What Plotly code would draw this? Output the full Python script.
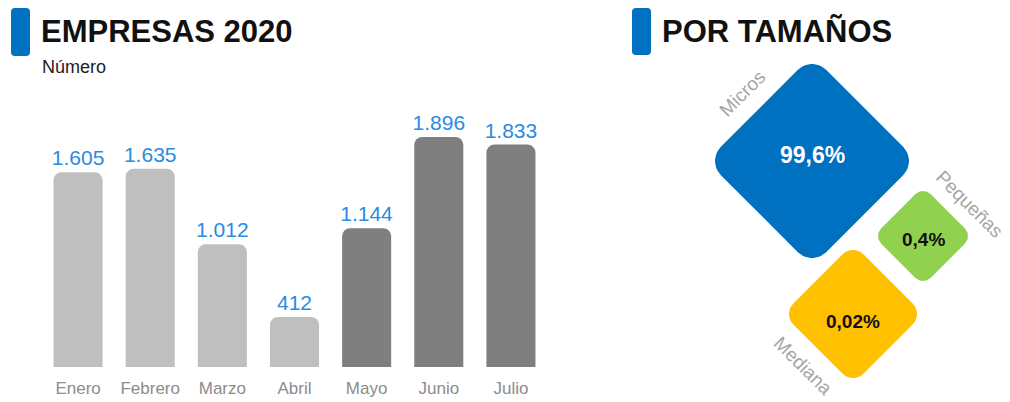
import numpy as np
import plotly.graph_objects as go

# ---- data ----
months = ["Enero", "Febrero", "Marzo", "Abril", "Mayo", "Junio", "Julio"]
empresas = [1605, 1635, 1012, 412, 1144, 1896, 1833]
value_labels = ["1.605", "1.635", "1.012", "412", "1.144", "1.896", "1.833"]
period = ["prev", "prev", "prev", "prev", "post", "post", "post"]

sizes = ["Micros", "Pequeñas", "Mediana"]
size_share_labels = ["99,6%", "0,4%", "0,02%"]

# ---- style ----
FONT = "Liberation Sans, Arial, sans-serif"
BAR_COL = {"prev": "#bfbfbf", "post": "#7f7f7f"}
BLUE = "#0070c0"
LABEL_BLUE = "#2a8be0"
OFF = 8                      # page body margin in the browser
W, H = 1010 - OFF, 402 - OFF

fig = go.Figure()

fig.add_trace(go.Bar(
    x=months, y=empresas,
    marker=dict(color=[BAR_COL[p] for p in period], cornerradius=8, line=dict(width=0)),
    text=value_labels, textposition="outside", cliponaxis=False, constraintext="none",
    textfont=dict(family=FONT, size=21, color=LABEL_BLUE),
    hoverinfo="skip", xaxis="x", yaxis="y",
))

# diamonds (pixel overlay axis)
dia_style = {
    "Micros":   dict(cx=812, cy=161, half=97, r=20, color=BLUE, tcol="white", tsize=23,
                     ty=155, lx=742, ly=93, la=-45),
    "Pequeñas": dict(cx=923, cy=236, half=45, r=11, color="#92d050", tcol="#111111", tsize=19,
                     ty=239, lx=970, ly=204, la=45),
    "Mediana":  dict(cx=853, cy=314, half=64, r=15, color="#ffc000", tcol="#111111", tsize=19,
                     ty=321, lx=803, ly=365, la=45),
}


def rounded_diamond(cx, cy, half, r):
    # rounded square in local frame, rotated 45 degrees
    a = (half - r) / np.sqrt(2) + r
    c = a - r
    pts = []
    for (ox, oy, a0) in [(c, c, 0), (-c, c, 90), (-c, -c, 180), (c, -c, 270)]:
        t = np.radians(np.linspace(a0, a0 + 90, 12))
        pts += list(zip(ox + r * np.cos(t), oy + r * np.sin(t)))
    pts = np.array(pts + [pts[0]])
    ang = np.radians(45)
    xr = pts[:, 0] * np.cos(ang) - pts[:, 1] * np.sin(ang)
    yr = pts[:, 0] * np.sin(ang) + pts[:, 1] * np.cos(ang)
    return cx + xr, cy + yr


annotations = []
for name, lab in zip(sizes, size_share_labels):
    s = dia_style[name]
    xs, ys = rounded_diamond(s["cx"], s["cy"], s["half"], s["r"])
    fig.add_trace(go.Scatter(x=xs, y=ys, fill="toself", fillcolor=s["color"], mode="lines",
                             line=dict(width=0, color=s["color"]), hoverinfo="skip",
                             xaxis="x2", yaxis="y2"))
    annotations.append(dict(x=s["cx"], y=s["ty"], xref="x2", yref="y2", text=f"<b>{lab}</b>",
                            showarrow=False, font=dict(family=FONT, size=s["tsize"], color=s["tcol"])))
    annotations.append(dict(x=s["lx"], y=s["ly"], xref="x2", yref="y2", text=name, textangle=s["la"],
                            showarrow=False, font=dict(family=FONT, size=19, color="#a6a6a6")))

# titles
annotations += [
    dict(x=39, y=31, xref="x2", yref="y2", text="<b>EMPRESAS 2020</b>", xanchor="left", showarrow=False,
         font=dict(family=FONT, size=31, color="#111111")),
    dict(x=40, y=67, xref="x2", yref="y2", text="Número", xanchor="left", showarrow=False,
         font=dict(family=FONT, size=18, color="#222222")),
    dict(x=660, y=31, xref="x2", yref="y2", text="<b>POR TAMAÑOS</b>", xanchor="left", showarrow=False,
         font=dict(family=FONT, size=31, color="#111111")),
]


def rrect(x0, y0, x1, y1, r):
    return (f"M{x0+r},{y0} L{x1-r},{y0} Q{x1},{y0} {x1},{y0+r} L{x1},{y1-r} Q{x1},{y1} {x1-r},{y1} "
            f"L{x0+r},{y1} Q{x0},{y1} {x0},{y1-r} L{x0},{y0+r} Q{x0},{y0} {x0+r},{y0} Z")


shapes = [
    dict(type="path", path=rrect(11, 8, 30, 56, 4), xref="x2", yref="y2", fillcolor=BLUE, line=dict(width=0)),
    dict(type="path", path=rrect(632, 8, 651, 55, 4), xref="x2", yref="y2", fillcolor=BLUE, line=dict(width=0)),
]

# bar plot area in window pixels
x_left, x_right = 42, 547
y_bottom, y_top = 367, 111
fig.update_layout(
    width=W, height=H, margin=dict(l=0, r=0, t=0, b=0),
    paper_bgcolor="white", plot_bgcolor="rgba(0,0,0,0)",
    showlegend=False, bargap=0.32,
    xaxis=dict(domain=[(x_left - OFF) / W, (x_right - OFF) / W], showgrid=False, zeroline=False,
               showline=False, ticks="", tickfont=dict(family=FONT, size=17, color="#8c8c8c"),
               ticklabelstandoff=9, fixedrange=True, anchor="y"),
    yaxis=dict(domain=[(402 - y_bottom) / H, (402 - y_top) / H], range=[0, 2110], visible=False,
               fixedrange=True, anchor="x"),
    xaxis2=dict(domain=[0, 1], range=[OFF, 1010], visible=False, anchor="y2", fixedrange=True),
    yaxis2=dict(domain=[0, 1], range=[402, OFF], visible=False, anchor="x2", fixedrange=True),
    annotations=annotations, shapes=shapes,
)

fig.write_html("out.html")
